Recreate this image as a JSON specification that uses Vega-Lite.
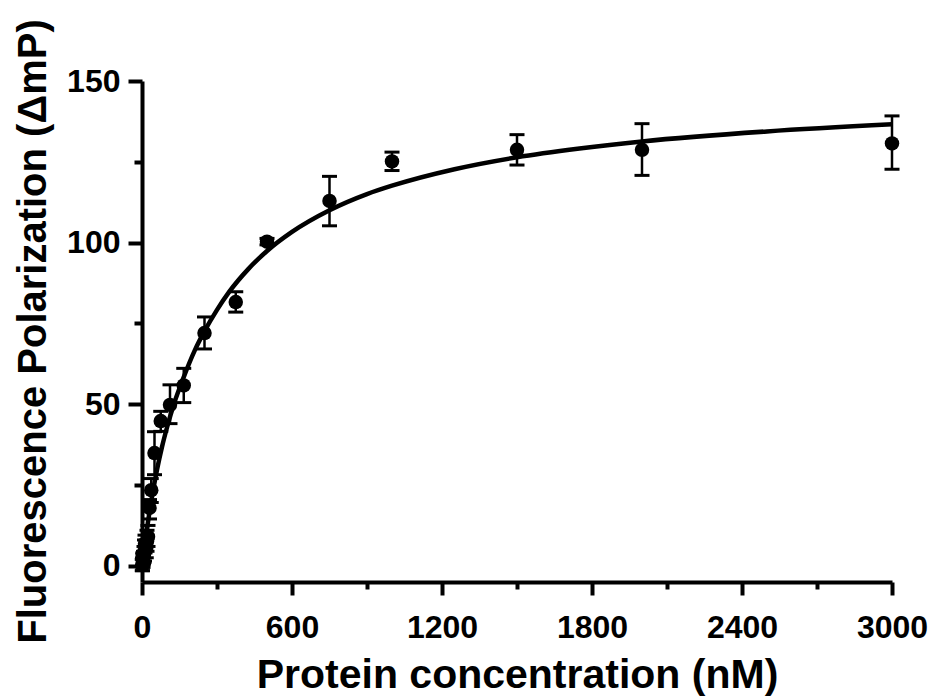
{
  "$schema": "https://vega.github.io/schema/vega-lite/v6.json",
  "width": 750,
  "height": 501,
  "autosize": {"type": "none"},
  "padding": {"left": 142, "top": 81, "right": 48, "bottom": 115},
  "background": "white",
  "config": {
    "view": {"stroke": null},
    "axis": {
      "grid": false,
      "domainColor": "black",
      "domainWidth": 4,
      "tickColor": "black",
      "tickWidth": 4,
      "labelFont": "Liberation Sans",
      "labelFontWeight": "bold",
      "labelFontSize": 32,
      "labelColor": "black",
      "titleFont": "Liberation Sans",
      "titleFontWeight": "bold",
      "titleColor": "black",
      "labelOverlap": false,
      "labelFlush": false,
      "labelBound": false
    }
  },
  "datasets": {
    "points": [
      {"x": 3000, "y": 130.7, "lo": 122.7, "hi": 139.2},
      {"x": 2000, "y": 128.7, "lo": 120.8, "hi": 136.8},
      {"x": 1500, "y": 128.7, "lo": 124.0, "hi": 133.4},
      {"x": 1000, "y": 125.1, "lo": 122.3, "hi": 128.0},
      {"x": 750, "y": 112.9, "lo": 105.2, "hi": 120.5},
      {"x": 500, "y": 100.3, "lo": 99.3, "hi": 101.3},
      {"x": 375, "y": 81.6, "lo": 78.5, "hi": 84.8},
      {"x": 250, "y": 72.0, "lo": 67.1, "hi": 77.0},
      {"x": 167, "y": 55.8, "lo": 50.5, "hi": 61.1},
      {"x": 112, "y": 49.8, "lo": 44.0, "hi": 56.0},
      {"x": 75, "y": 44.8, "lo": 41.6, "hi": 47.8},
      {"x": 50, "y": 34.9, "lo": 28.2, "hi": 41.5},
      {"x": 37, "y": 23.4, "lo": 19.6, "hi": 27.0},
      {"x": 30, "y": 17.9, "lo": 14.5, "hi": 20.5},
      {"x": 24, "y": 9.0, "lo": 6.0, "hi": 12.5},
      {"x": 20, "y": 7.5, "lo": 4.5, "hi": 11.0},
      {"x": 17, "y": 5.5, "lo": 2.5, "hi": 8.0},
      {"x": 12, "y": 6.8, "lo": 4.0, "hi": 9.5},
      {"x": 10, "y": 4.5, "lo": 1.5, "hi": 8.0},
      {"x": 8, "y": 3.5, "lo": 1.0, "hi": 6.0},
      {"x": 6, "y": 2.5, "lo": 0.5, "hi": 4.5},
      {"x": 4, "y": 1.5, "lo": -0.5, "hi": 3.5},
      {"x": 3, "y": 2.0, "lo": 0.0, "hi": 4.0},
      {"x": 2, "y": 0.5, "lo": -1.5, "hi": 2.5},
      {"x": 1, "y": 0.2, "lo": -1.5, "hi": 2.0}
    ],
    "curve": [
      {"x": 0, "y": 0},
      {"x": 5, "y": 3.0},
      {"x": 10, "y": 5.9},
      {"x": 20, "y": 11.5},
      {"x": 30, "y": 16.7},
      {"x": 45, "y": 23.6},
      {"x": 60, "y": 29.7},
      {"x": 80, "y": 36.8},
      {"x": 100, "y": 42.8},
      {"x": 130, "y": 50.6},
      {"x": 165, "y": 58.0},
      {"x": 212, "y": 66.8},
      {"x": 250, "y": 72.6},
      {"x": 300, "y": 79.2},
      {"x": 350, "y": 84.9},
      {"x": 425, "y": 91.8},
      {"x": 500, "y": 97.4},
      {"x": 600, "y": 103.3},
      {"x": 750, "y": 110.0},
      {"x": 900, "y": 115.0},
      {"x": 1000, "y": 117.6},
      {"x": 1250, "y": 122.7},
      {"x": 1500, "y": 126.4},
      {"x": 1750, "y": 129.1},
      {"x": 2000, "y": 131.3},
      {"x": 2500, "y": 134.4},
      {"x": 3000, "y": 136.6}
    ]
  },
  "layer": [
    {
      "data": {"name": "curve"},
      "mark": {"type": "line", "color": "black", "strokeWidth": 4.5, "interpolate": "monotone", "clip": false},
      "encoding": {
        "x": {
          "field": "x",
          "type": "quantitative",
          "scale": {"domain": [0, 3000], "nice": false, "zero": false},
          "axis": {
            "title": "Protein concentration (nM)",
            "titleFontSize": 41,
            "values": [0, 300, 600, 900, 1200, 1500, 1800, 2100, 2400, 2700, 3000],
            "format": "d",
            "labelExpr": "datum.value % 600 === 0 ? datum.label : ''",
            "tickSize": {"condition": {"test": "datum.value % 600 === 0", "value": 13}, "value": 7},
            "labelPadding": 17,
            "titleBaseline": "alphabetic",
            "titleY": 105
          }
        },
        "y": {
          "field": "y",
          "type": "quantitative",
          "scale": {"domain": [-5, 150], "nice": false, "zero": false},
          "axis": {
            "title": "Fluorescence Polarization (ΔmP)",
            "titleFontSize": 40,
            "values": [0, 25, 50, 75, 100, 125, 150],
            "format": "d",
            "labelExpr": "datum.value % 50 === 0 ? datum.label : ''",
            "tickSize": {"condition": {"test": "datum.value % 50 === 0", "value": 14}, "value": 8},
            "labelPadding": 8,
            "titleBaseline": "alphabetic",
            "titleX": -97,
            "titleY": 250
          }
        }
      }
    },
    {
      "data": {"name": "points"},
      "mark": {"type": "rule", "color": "black", "strokeWidth": 2.5, "opacity": 1, "clip": false},
      "encoding": {
        "x": {"field": "x", "type": "quantitative"},
        "y": {"field": "lo", "type": "quantitative"},
        "y2": {"field": "hi"}
      }
    },
    {
      "data": {"name": "points"},
      "mark": {"type": "tick", "orient": "horizontal", "color": "black", "opacity": 1, "size": 15, "thickness": 3, "clip": false},
      "encoding": {
        "x": {"field": "x", "type": "quantitative"},
        "y": {"field": "lo", "type": "quantitative"}
      }
    },
    {
      "data": {"name": "points"},
      "mark": {"type": "tick", "orient": "horizontal", "color": "black", "opacity": 1, "size": 15, "thickness": 3, "clip": false},
      "encoding": {
        "x": {"field": "x", "type": "quantitative"},
        "y": {"field": "hi", "type": "quantitative"}
      }
    },
    {
      "data": {"name": "points"},
      "mark": {"type": "circle", "color": "black", "size": 210, "opacity": 1, "clip": false},
      "encoding": {
        "x": {"field": "x", "type": "quantitative"},
        "y": {"field": "y", "type": "quantitative"}
      }
    }
  ]
}
